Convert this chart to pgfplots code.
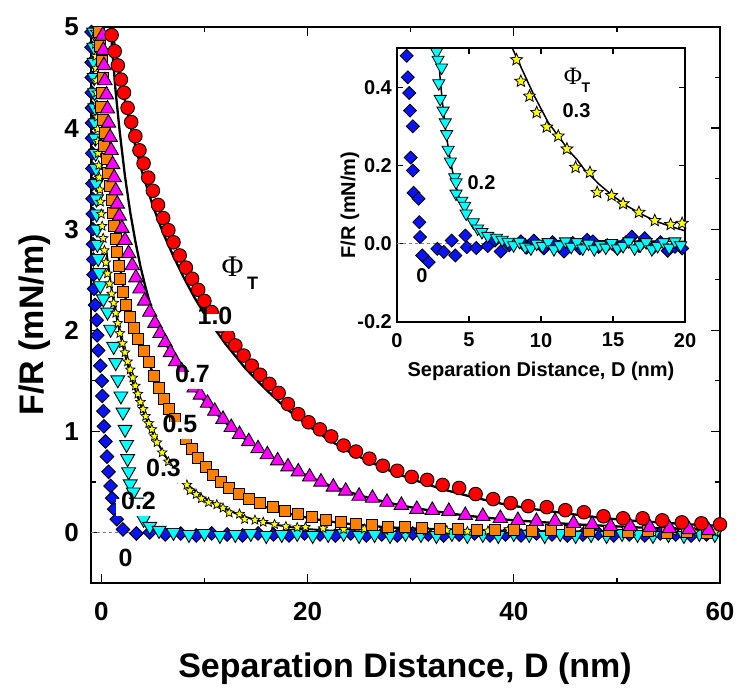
\documentclass[border=0pt]{standalone}
\usepackage{pgfplots}
\pgfplotsset{compat=1.18}
\usepackage{fontspec}
\setmainfont{Liberation Sans}
\newfontfamily\phifont{Liberation Serif}
\definecolor{cred}{RGB}{255,0,0}
\definecolor{cmag}{RGB}{255,0,255}
\definecolor{corange}{RGB}{255,128,0}
\definecolor{cyel}{RGB}{255,255,0}
\definecolor{ccyan}{RGB}{0,255,255}
\definecolor{cblue}{RGB}{10,20,240}
\pgfdeclareplotmark{fstar}{%
  \pgfpathmoveto{\pgfqpointpolar{90}{\pgfplotmarksize}}%
  \pgfpathlineto{\pgfqpointpolar{126}{0.45\pgfplotmarksize}}%
  \pgfpathlineto{\pgfqpointpolar{162}{\pgfplotmarksize}}%
  \pgfpathlineto{\pgfqpointpolar{198}{0.45\pgfplotmarksize}}%
  \pgfpathlineto{\pgfqpointpolar{234}{\pgfplotmarksize}}%
  \pgfpathlineto{\pgfqpointpolar{270}{0.45\pgfplotmarksize}}%
  \pgfpathlineto{\pgfqpointpolar{306}{\pgfplotmarksize}}%
  \pgfpathlineto{\pgfqpointpolar{342}{0.45\pgfplotmarksize}}%
  \pgfpathlineto{\pgfqpointpolar{18}{\pgfplotmarksize}}%
  \pgfpathlineto{\pgfqpointpolar{54}{0.45\pgfplotmarksize}}%
  \pgfpathclose
  \pgfusepathqfillstroke
}
\tikzset{
  lab/.style={fill=white, inner xsep=5bp, inner ysep=3bp, text height=0.85em, text depth=0.3em, font=\fontsize{25bp}{28bp}\selectfont\bfseries},
  labi/.style={fill=white, inner xsep=3bp, inner ysep=2bp, text height=0.8em, text depth=0.2em, font=\fontsize{20bp}{22bp}\selectfont\bfseries},
}
\begin{document}
\begin{tikzpicture}
\path[use as bounding box] (0,0) rectangle (737bp,688bp);
% ---------------- main axis ----------------
\begin{axis}[
  at={(91bp,105bp)}, anchor=south west,
  scale only axis, width=629bp, height=556bp,
  xmin=-1, xmax=60, ymin=-0.5, ymax=5,
  xtick={0,20,40,60}, xticklabels={0,20,40,60},
  minor xtick={10,30,50},
  ytick={0,1,2,3,4,5}, yticklabels={0,1,2,3,4,5},
  minor ytick={0.5,1.5,2.5,3.5,4.5},
  tick align=inside,
  major tick length=9bp, minor tick length=5bp,
  tick style={black, line width=1.3bp},
  axis line style={line width=2.5bp},
  ticklabel style={font=\fontsize{26bp}{30bp}\selectfont\bfseries},
  xticklabel style={inner sep=0pt, yshift=-19bp},
  yticklabel style={inner sep=0pt, xshift=-12bp},
]
\addplot[gray, dashed, line width=0.8bp] coordinates {(-1,0) (60,0)};
% Phi = 0 (blue diamonds)
\addplot[only marks, mark=square*, mark size=4.8bp, mark options={rotate=45, fill=cblue, draw=black, line width=0.9bp}] coordinates {
(-0.95,4.95)(-0.95,4.80)(-0.94,4.65)(-0.93,4.50)(-0.92,4.35)(-0.92,4.20)(-0.9,4.05)(-0.9,3.90)(-0.88,3.75)(-0.87,3.60)(-0.86,3.45)(-0.85,3.30)(-0.83,3.15)(-0.82,3.00)(-0.8,2.85)(-0.78,2.70)(-0.75,2.55)(-0.7,2.41)(-0.6,2.25)(-0.45,2.10)(-0.4,1.95)(-0.3,1.80)(-0.1,1.65)(0.05,1.50)(0.1,1.35)(0.2,1.20)(0.25,1.05)(0.4,0.90)(0.55,0.75)(0.7,0.60)(0.9,0.46)(1.05,0.34)(1.25,0.23)(1.5,0.13)(2.1,0.03)(3.4,-0.01)(4.7,0.0)(6.2,-0.02)(7.7,-0.01)(9.2,-0.03)(10.7,-0.01)(12.2,-0.02)(13.7,-0.03)(15.2,-0.01)(16.7,-0.02)(18.2,-0.03)(19.7,-0.01)(21.2,-0.02)(22.7,-0.03)(24.2,-0.01)(25.7,-0.03)(27.2,-0.02)(28.7,-0.03)(30.2,-0.01)(31.7,-0.02)(33.2,-0.03)(34.7,-0.02)(36.2,-0.01)(37.7,-0.03)(39.2,-0.02)(40.7,-0.03)(42.2,-0.01)(43.7,-0.02)(45.2,-0.03)(46.7,-0.02)(48.2,-0.01)(49.7,-0.03)(51.2,-0.02)(52.7,-0.03)(54.2,-0.01)(55.7,-0.02)(57.2,-0.03)(58.7,-0.02)
};
% Phi = 0.2 (cyan down triangles)
\addplot[only marks, mark=triangle*, mark size=8bp, mark options={rotate=180, fill=ccyan, draw=black, line width=0.9bp}] coordinates {
(-0.75,4.95)(-0.72,4.80)(-0.7,4.65)(-0.68,4.50)(-0.65,4.35)(-0.62,4.20)(-0.6,4.05)(-0.58,3.90)(-0.55,3.75)(-0.52,3.60)(-0.5,3.45)(-0.47,3.30)(-0.45,3.15)(-0.42,3.00)(-0.38,2.85)(-0.3,2.71)(-0.2,2.57)(-0.1,2.44)(0.2,2.31)(0.6,2.18)(0.9,2.01)(1.2,1.84)(1.4,1.68)(1.6,1.51)(1.9,1.35)(2.1,1.19)(2.3,1.02)(2.45,0.87)(2.55,0.73)(2.65,0.60)(2.8,0.48)(3.1,0.40)(3.4,0.30)(3.7,0.21)(4.1,0.13)(4.7,0.06)(5.6,0.02)(7.0,0.0)(8.5,-0.02)(10.0,-0.01)(11.5,-0.03)(13.0,-0.02)(14.5,-0.01)(16.0,-0.03)(17.5,-0.02)(19.0,-0.01)(20.5,-0.03)(22,-0.02)(23.5,-0.01)(25,-0.03)(26.5,-0.02)(28,-0.03)(29.5,-0.01)(31,-0.02)(32.5,-0.03)(34,-0.01)(35.5,-0.03)(37,-0.02)(38.5,-0.03)(40,-0.01)(41.5,-0.02)(43,-0.03)(44.5,-0.01)(46,-0.03)(47.5,-0.02)(49,-0.03)(50.5,-0.01)(52,-0.02)(53.5,-0.03)(55,-0.02)(56.5,-0.03)(58,-0.01)(59.5,-0.02)
};
% Phi = 0.3 (yellow stars)
\addplot[only marks, mark=fstar, mark size=5bp, mark options={fill=cyel, draw=black, line width=0.7bp}] coordinates {
(-0.6,4.95)(-0.57,4.83)(-0.54,4.71)(-0.51,4.59)(-0.48,4.47)(-0.45,4.35)(-0.42,4.23)(-0.39,4.11)(-0.36,3.99)(-0.33,3.87)(-0.3,3.75)(-0.25,3.63)(-0.2,3.51)(-0.14,3.39)(-0.08,3.27)(0.0,3.15)(0.08,3.03)(0.18,2.91)(0.3,2.79)(0.45,2.67)(0.6,2.56)(0.8,2.46)(1.0,2.36)(1.2,2.27)(1.4,2.17)(1.6,2.07)(1.8,1.97)(2.05,1.87)(2.3,1.78)(2.55,1.69)(2.8,1.61)(3.05,1.53)(3.3,1.45)(3.55,1.37)(3.8,1.29)(4.05,1.22)(4.3,1.15)(4.6,1.08)(4.9,1.02)(5.15,0.95)(5.4,0.89)(5.9,0.79)(6.5,0.70)(7.1,0.61)(7.7,0.53)(8.3,0.47)(8.6,0.415)(9.2,0.377)(9.7,0.335)(10.4,0.298)(11.2,0.275)(11.8,0.242)(12.4,0.195)(13.4,0.182)(13.9,0.131)(14.9,0.123)(15.7,0.102)(16.8,0.08)(17.9,0.059)(19.0,0.049)(19.8,0.052)(21.5,0.04)(23.5,0.03)(25.5,0.035)(27.5,0.02)(29.5,0.025)(31.5,0.015)(33.5,0.02)(35.5,0.01)(37.5,0.015)(39.5,0.03)(41.5,0.01)(43.5,0.015)(45.5,0.01)(47.5,0.02)(49.5,0.005)(51.5,0.01)(53.5,0.0)(55.5,0.01)(57.5,0.005)(59.5,0.0)
};
% Phi = 0.5 (orange squares)
\addplot[only marks, mark=square*, mark size=5.5bp, mark options={fill=corange, draw=black, line width=0.9bp}] coordinates {
(-0.25,4.95)(-0.1,4.81)(0.05,4.66)(0.15,4.5)(0.1,4.35)(0.0,4.21)(0.2,4.08)(0.35,3.95)(0.3,3.82)(0.5,3.69)(0.65,3.56)(0.85,3.43)(1.0,3.29)(1.1,3.16)(1.25,3.03)(1.4,2.90)(1.55,2.77)(1.7,2.64)(1.85,2.51)(2.05,2.38)(2.4,2.25)(2.75,2.13)(3.15,2.02)(3.6,1.91)(4.1,1.80)(4.6,1.69)(5.1,1.55)(5.6,1.43)(6.1,1.32)(6.6,1.22)(7.1,1.12)(7.6,1.02)(8.2,0.92)(8.8,0.83)(9.4,0.74)(10.1,0.65)(10.8,0.57)(11.6,0.50)(12.4,0.44)(13.3,0.38)(14.3,0.33)(15.4,0.29)(16.6,0.25)(17.8,0.21)(19.1,0.18)(20.4,0.15)(21.8,0.12)(23.2,0.10)(24.7,0.08)(26.2,0.07)(27.8,0.055)(29.4,0.05)(31.1,0.04)(32.8,0.035)(34.6,0.03)(36.4,0.025)(38.2,0.02)(40.0,0.02)(41.8,0.015)(43.6,0.02)(45.4,0.01)(47.3,0.015)(49.2,0.01)(51.1,0.005)(53.0,0.01)(54.9,0.0)(56.8,0.005)(58.7,0.0)
};
% Phi = 0.7 (magenta triangles)
\addplot[only marks, mark=triangle*, mark size=8.3bp, mark options={fill=cmag, draw=black, line width=0.9bp}] coordinates {
(0.15,4.92)(0.2,4.77)(0.25,4.62)(0.35,4.47)(0.5,4.33)(0.6,4.19)(0.7,4.05)(0.85,3.91)(0.95,3.78)(1.1,3.64)(1.25,3.51)(1.4,3.38)(1.55,3.25)(1.75,3.13)(2.0,3.01)(2.3,2.89)(2.65,2.76)(3.0,2.64)(3.35,2.52)(3.75,2.41)(4.2,2.29)(4.7,2.18)(5.2,2.07)(5.7,1.97)(6.2,1.88)(6.7,1.78)(7.2,1.69)(7.8,1.60)(8.4,1.52)(9.0,1.43)(9.6,1.36)(10.3,1.28)(11.0,1.20)(11.8,1.12)(12.6,1.04)(13.4,0.97)(14.3,0.90)(15.2,0.83)(16.1,0.77)(17.1,0.71)(18.1,0.65)(19.1,0.60)(20.2,0.55)(21.3,0.50)(22.5,0.45)(23.7,0.41)(25.0,0.36)(26.3,0.34)(27.7,0.30)(29.1,0.27)(30.6,0.23)(32.1,0.22)(33.7,0.21)(35.3,0.17)(37.0,0.16)(38.7,0.14)(40.4,0.12)(42.2,0.11)(44.0,0.11)(45.8,0.09)(47.6,0.08)(49.4,0.06)(51.3,0.06)(53.2,0.05)(55.1,0.04)(57.0,0.03)(58.9,0.02)
};
% Phi = 1.0 (red circles)
\addplot[only marks, mark=*, mark size=6.8bp, mark options={fill=cred, draw=black, line width=0.9bp}] coordinates {
(1.0,4.92)(1.3,4.76)(1.6,4.62)(1.9,4.48)(2.2,4.35)(2.55,4.20)(2.9,4.06)(3.3,3.92)(3.7,3.78)(4.1,3.65)(4.55,3.51)(5.0,3.38)(5.5,3.24)(6.0,3.11)(6.5,2.99)(7.0,2.87)(7.6,2.74)(8.2,2.62)(8.8,2.51)(9.4,2.40)(10.0,2.29)(10.7,2.18)(11.6,2.04)(12.3,1.94)(13.0,1.85)(13.8,1.75)(14.6,1.65)(15.4,1.56)(16.3,1.47)(17.2,1.38)(18.1,1.27)(19.1,1.17)(20.1,1.09)(21.2,1.02)(22.3,0.95)(23.5,0.86)(24.7,0.80)(26.0,0.73)(27.3,0.66)(28.7,0.61)(30.1,0.55)(31.6,0.52)(33.1,0.47)(34.7,0.44)(36.3,0.38)(38.0,0.33)(39.7,0.29)(41.4,0.26)(43.2,0.25)(45.0,0.22)(46.8,0.20)(48.7,0.16)(50.6,0.14)(52.5,0.14)(54.4,0.12)(56.3,0.10)(58.2,0.09)(60.0,0.08)
};
% fit lines
\addplot[black, line width=2.3bp] coordinates {
(0.9,5.08)(1.5,4.69)(2.0,4.41)(3.0,3.94)(4.0,3.55)(5.0,3.23)(6.0,2.96)(7.0,2.73)(8.0,2.52)(9.0,2.33)(10.0,2.16)(12.0,1.87)(14.0,1.62)(16.0,1.41)(18.0,1.22)(20.0,1.06)(22.0,0.92)(24.0,0.80)(26.0,0.70)(28.0,0.61)(30.0,0.53)(33.0,0.43)(36.0,0.35)(39.0,0.28)(42.0,0.23)(45.0,0.19)(48.0,0.15)(51.0,0.12)(54.0,0.10)(57.0,0.08)(60.0,0.065)
};
\addplot[black, line width=2.3bp] coordinates {
(0.9,5.0)(1.1,4.72)(1.4,4.35)(1.8,3.95)(2.3,3.52)(2.8,3.17)(3.3,2.88)(3.8,2.63)(4.3,2.42)(4.8,2.24)(5.5,2.04)(6.2,1.88)(7.0,1.72)(8.0,1.56)(9.0,1.42)(10.0,1.30)(11.0,1.19)(12.0,1.09)(13.0,1.00)(14.0,0.92)(15.0,0.85)(16.0,0.78)(17.0,0.72)(18.0,0.66)(19.0,0.61)(20.0,0.56)(22.0,0.47)(24.0,0.40)(26.0,0.34)(28.0,0.29)(30.0,0.25)(32.0,0.215)(34.0,0.185)(36.0,0.16)(38.0,0.14)(40.0,0.12)(43.0,0.10)(46.0,0.08)(49.0,0.065)(52.0,0.05)(55.0,0.04)(58.0,0.03)(60.0,0.025)
};
\addplot[black, line width=2.3bp] coordinates {
(0.5,3.70)(1.0,3.30)(1.5,2.86)(2.0,2.50)(2.5,2.24)(3.0,2.05)(3.5,1.92)(4.0,1.81)(4.5,1.70)(5.0,1.58)(5.5,1.46)(6.0,1.35)(7.0,1.14)(8.0,0.96)(9.0,0.80)(10.0,0.67)(11.0,0.56)(12.0,0.47)(13.0,0.40)(14.0,0.34)(15.0,0.29)(16.0,0.25)(18.0,0.19)(20.0,0.145)(22.0,0.11)(24.0,0.085)(26.0,0.065)(28.0,0.05)(30.0,0.04)(35.0,0.025)(40.0,0.015)(45.0,0.01)(50.0,0.005)(55.0,0.003)(60.0,0.002)
};
\addplot[black, line width=1.9bp] coordinates {
(0.5,2.78)(1.0,2.40)(1.5,2.12)(2.0,1.88)(2.5,1.68)(3.0,1.50)(3.5,1.35)(4.0,1.21)(4.5,1.09)(5.0,0.98)(5.5,0.88)(6.0,0.79)(6.5,0.71)(7.0,0.64)(7.5,0.57)(8.0,0.50)(8.5,0.46)(9.0,0.42)(9.5,0.38)(10.0,0.345)(10.5,0.31)(11.0,0.285)(11.5,0.26)(12.0,0.235)(12.5,0.215)(13.0,0.19)(13.5,0.172)(14.0,0.153)(15.0,0.122)(16.0,0.096)(17.0,0.075)(18.0,0.057)(19.0,0.044)(20.0,0.033)(22,0.02)(25,0.01)(30,0.005)(40,0.002)(60,0.0)
};
\end{axis}
% labels of main plot
\node[lab, anchor=base] at (215bp,363bp) {1.0};
\node[lab, anchor=base] at (192.5bp,305bp) {0.7};
\node[lab, anchor=base] at (180bp,255bp) {0.5};
\node[lab, anchor=base] at (163.5bp,211bp) {0.3};
\node[lab, anchor=base] at (138.5bp,178bp) {0.2};
\node[lab, anchor=base] at (125.5bp,121bp) {0};
\node[anchor=base, inner sep=0pt] at (232.5bp,411bp) {\fontsize{30bp}{32bp}\selectfont\phifont Φ};
\node[anchor=base, inner sep=0pt] at (252.5bp,398bp) {\fontsize{18bp}{20bp}\selectfont\bfseries T};
\node[anchor=base, inner sep=0pt] at (405bp,11bp) {\fontsize{34bp}{38bp}\selectfont\bfseries Separation Distance, D (nm)};
\node[anchor=base, inner sep=0pt, rotate=90] at (43bp,363bp) {\fontsize{34bp}{38bp}\selectfont\bfseries F/R (mN/m)};
% ---------------- inset ----------------
\begin{axis}[
  at={(397bp,366bp)}, anchor=south west,
  scale only axis, width=288bp, height=274bp,
  xmin=0, xmax=20, ymin=-0.2, ymax=0.5,
  axis background/.style={fill=white},
  xtick={0,5,10,15,20}, xticklabels={0,5,10,15,20},
  ytick={-0.2,0,0.2,0.4}, yticklabels={-0.2,0.0,0.2,0.4},
  tick align=inside,
  major tick length=6bp,
  tick style={black, line width=1.2bp},
  axis line style={line width=2.3bp},
  ticklabel style={font=\fontsize{20bp}{22bp}\selectfont\bfseries},
  xticklabel style={inner sep=0pt, yshift=-11bp},
  yticklabel style={inner sep=0pt, xshift=-5bp},
]
\addplot[gray, dashed, line width=0.7bp] coordinates {(0,0) (20,0)};
\addplot[only marks, mark=square*, mark size=4.6bp, mark options={rotate=45, fill=cblue, draw=black, line width=0.8bp}] coordinates {
(0.67,0.48)(0.75,0.425)(0.85,0.385)(0.9,0.34)(1.1,0.30)(0.95,0.22)(1.1,0.187)(1.15,0.13)(1.5,0.115)(1.55,0.055)(1.6,0.017)(1.75,-0.03)(2.2,-0.047)(2.8,-0.013)(3.25,-0.021)(3.8,0.008)(4.05,-0.03)(4.75,0.021)(4.85,-0.009)(5.5,-0.011)(6.3,-0.006)(6.8,0.008)(7.2,-0.02)(7.8,-0.004)(8.6,0.006)(9.0,-0.01)(9.5,0.008)(10.2,-0.012)(10.8,0.004)(11.6,-0.02)(12.2,0.002)(12.7,-0.012)(13.2,0.01)(13.6,0.006)(14.0,-0.008)(14.6,-0.004)(15.3,-0.012)(15.9,0.004)(16.3,0.018)(16.8,-0.006)(17.2,0.014)(17.8,-0.01)(18.3,0.004)(18.8,-0.018)(19.3,-0.008)(19.8,-0.012)
};
\addplot[only marks, mark=triangle*, mark size=7bp, mark options={rotate=180, fill=ccyan, draw=black, line width=0.8bp}] coordinates {
(2.75,0.49)(2.85,0.47)(3.1,0.45)(2.9,0.41)(3.0,0.37)(3.2,0.34)(3.35,0.31)(3.45,0.28)(3.55,0.24)(3.7,0.21)(4.0,0.17)(4.1,0.157)(4.1,0.128)(4.5,0.11)(4.7,0.097)(4.8,0.077)(5.3,0.055)(5.6,0.039)(5.9,0.03)(6.3,0.02)(6.9,0.015)(7.3,0.01)(7.7,0.005)(8.1,-0.004)(8.5,0.005)(8.9,-0.008)(9.3,-0.012)(9.7,0.0)(10.1,-0.006)(10.5,0.004)(10.9,-0.014)(11.3,-0.004)(11.7,0.006)(12.1,-0.008)(12.5,0.004)(12.9,-0.012)(13.3,0.0)(13.7,-0.014)(14.1,-0.004)(14.5,-0.01)(14.9,0.002)(15.3,-0.012)(15.7,-0.006)(16.1,0.006)(16.5,-0.012)(16.9,-0.004)(17.3,0.004)(17.7,-0.014)(18.1,-0.006)(18.5,0.004)(18.9,-0.01)(19.3,0.006)(19.7,-0.004)
};
\addplot[only marks, mark=fstar, mark size=6.3bp, mark options={fill=cyel, draw=black, line width=0.8bp}] coordinates {
(7.7,0.53)(8.3,0.47)(8.6,0.415)(9.2,0.377)(9.7,0.335)(10.4,0.298)(11.2,0.275)(11.8,0.242)(12.4,0.195)(13.4,0.182)(13.9,0.131)(14.9,0.123)(15.7,0.102)(16.8,0.08)(17.9,0.059)(19.0,0.049)(19.8,0.052)
};
\addplot[black, line width=1.5bp] coordinates {
(2.8,0.52)(3.0,0.42)(3.2,0.345)(3.4,0.285)(3.6,0.235)(3.8,0.195)(4.0,0.16)(4.3,0.12)(4.6,0.088)(5.0,0.058)(5.5,0.035)(6.0,0.022)(6.5,0.015)(7.5,0.01)(10,0.008)(15,0.007)(20,0.006)
};
\addplot[black, line width=1.5bp] coordinates {
(7.8,0.52)(8.0,0.50)(8.5,0.46)(9.0,0.42)(9.5,0.38)(10.0,0.345)(10.5,0.31)(11.0,0.285)(11.5,0.26)(12.0,0.235)(12.5,0.215)(13.0,0.19)(13.5,0.172)(14.0,0.153)(15.0,0.122)(16.0,0.096)(17.0,0.075)(18.0,0.057)(19.0,0.044)(20.0,0.033)
};
\end{axis}
\node[labi, anchor=base] at (576.5bp,570bp) {0.3};
\node[labi, anchor=base] at (481.5bp,498bp) {0.2};
\node[labi, anchor=base] at (422bp,405bp) {0};
\node[anchor=base, inner sep=0pt] at (573bp,603bp) {\fontsize{25bp}{27bp}\selectfont\phifont Φ};
\node[anchor=base, inner sep=0pt] at (586bp,595bp) {\fontsize{14bp}{16bp}\selectfont\bfseries T};
\node[anchor=base, inner sep=0pt] at (541bp,311bp) {\fontsize{20bp}{22bp}\selectfont\bfseries Separation Distance, D (nm)};
\node[anchor=base, inner sep=0pt, rotate=90] at (355bp,483bp) {\fontsize{20bp}{22bp}\selectfont\bfseries F/R (mN/m)};
\end{tikzpicture}
\end{document}
